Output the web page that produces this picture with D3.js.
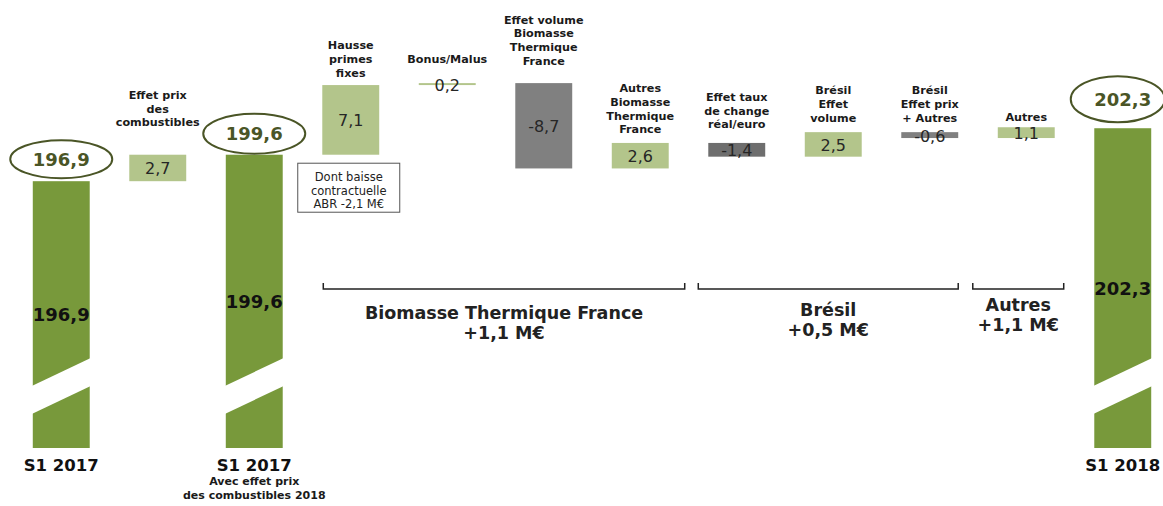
<!DOCTYPE html>
<html>
<head>
<meta charset="utf-8">
<script src="https://cdn.jsdelivr.net/npm/d3@7/dist/d3.min.js"></script>
<style>
  html, body { margin: 0; padding: 0; background: #fff; }
  svg { display: block; font-family: "DejaVu Sans", Verdana, sans-serif; }
</style>
</head>
<body>
<svg id="chart" width="1163" height="506"></svg>
<script>
// Waterfall: S1 2017 -> S1 2018 (M€)
const categories = [
  ["S1 2017"],
  ["Effet prix", "des", "combustibles"],
  ["S1 2017"],
  ["Hausse", "primes", "fixes"],
  ["Bonus/Malus"],
  ["Effet volume", "Biomasse", "Thermique", "France"],
  ["Autres", "Biomasse", "Thermique", "France"],
  ["Effet taux", "de change", "réal/euro"],
  ["Brésil", "Effet", "volume"],
  ["Brésil", "Effet prix", "+ Autres"],
  ["Autres"],
  ["S1 2018"]
];
const values = [196.9, 2.7, 199.6, 7.1, 0.2, -8.7, 2.6, -1.4, 2.5, -0.6, 1.1, 202.3];
const kinds = ["total", "delta", "total", "delta", "delta", "delta", "delta", "delta", "delta", "delta", "delta", "total"];
const totalSubLabels = [[], [], ["Avec effet prix", "des combustibles 2018"], [], [], [], [], [], [], [], [], []];
const noteLines = ["Dont baisse", "contractuelle", "ABR -2,1 M€"];
const groupNames = ["Biomasse Thermique France", "Brésil", "Autres"];
const groupTotals = ["+1,1 M€", "+0,5 M€", "+1,1 M€"];
const groupSpans = [[3, 6], [7, 9], [10, 10]];

// ---- rendering ----
const svg = d3.select("#chart");
const fmt = v => v.toFixed(1).replace(".", ",");

const x = d3.scaleBand()
  .domain(d3.range(values.length))
  .range([13, 1171])
  .paddingInner(0.41)
  .paddingOuter(0.205);

const y = d3.scaleLinear().domain([169.7, 210]).range([448, 52.7]);
const base = y.domain()[0];

// running totals for the floating bars
let running = 0;
const bars = values.map((v, i) => {
  let y0, y1;
  if (kinds[i] === "total") { y0 = base; y1 = v; running = v; }
  else { y0 = running; y1 = running + v; running = y1; }
  return { i, v, kind: kinds[i], lo: Math.min(y0, y1), hi: Math.max(y0, y1) };
});

const colTotal = "#78993b";
const colUp = "#b3c58b";
const colDown = "#808080";
const colDownDark = "#6e6e6e";

const bw = x.bandwidth();

svg.append("g").selectAll("rect")
  .data(bars)
  .join("rect")
  .attr("x", d => x(d.i))
  .attr("width", bw)
  .attr("y", d => y(d.hi))
  .attr("height", d => Math.max(1, y(d.lo) - y(d.hi)))
  .attr("fill", d => d.kind === "total" ? colTotal : (d.v >= 0 ? colUp : (d.i === 7 ? colDownDark : colDown)));

// axis break on the total bars
const totals = bars.filter(d => d.kind === "total");
svg.append("g").selectAll("polygon")
  .data(totals)
  .join("polygon")
  .attr("fill", "#fff")
  .attr("points", d => {
    const x0 = x(d.i) - 1, x1 = x(d.i) + bw + 1, b = y(base);
    const yl = b - 48, yr = b - 76, h = 14;
    return [[x0, yl - h], [x1, yr - h], [x1, yr + h], [x0, yl + h]].map(p => p.join(",")).join(" ");
  });

// value inside the total bars
svg.append("g").selectAll("text")
  .data(totals)
  .join("text")
  .attr("x", d => x(d.i) + bw / 2)
  .attr("y", d => (y(d.hi) + y(base)) / 2)
  .attr("text-anchor", "middle")
  .attr("dominant-baseline", "central")
  .attr("font-size", 18)
  .attr("font-weight", "bold")
  .attr("fill", "#111")
  .text(d => fmt(d.v));

// circled totals above the bars
const ellipseStyle = { 0: { rx: 51, ry: 19, lift: 22 }, 2: { rx: 51, ry: 20, lift: 21 }, 11: { rx: 47, ry: 23, lift: 29 } };
const eg = svg.append("g").selectAll("g").data(totals).join("g")
  .attr("transform", d => `translate(${x(d.i) + bw / 2 + (d.i === 11 ? -5 : 0)},${y(d.hi) - ellipseStyle[d.i].lift})`);
eg.append("ellipse")
  .attr("rx", d => ellipseStyle[d.i].rx)
  .attr("ry", d => ellipseStyle[d.i].ry)
  .attr("fill", "none")
  .attr("stroke", "#4a5526")
  .attr("stroke-width", 2);
eg.append("text")
  .attr("x", d => d.i === 11 ? 5 : 0)
  .attr("text-anchor", "middle")
  .attr("dominant-baseline", "central")
  .attr("font-size", 18)
  .attr("font-weight", "bold")
  .attr("fill", "#4a5526")
  .text(d => fmt(d.v));

// values on the floating bars
const deltas = bars.filter(d => d.kind === "delta");
svg.append("g").selectAll("text")
  .data(deltas)
  .join("text")
  .attr("x", d => x(d.i) + bw / 2)
  .attr("y", d => (y(d.hi) + y(d.lo)) / 2 + 1)
  .attr("text-anchor", "middle")
  .attr("dominant-baseline", "central")
  .attr("font-size", 16)
  .attr("fill", "#262626")
  .text(d => fmt(d.v));

// headings above the floating bars
const labelLift = { 1: 32, 3: 12, 4: 24, 5: 22, 6: 13, 7: 18, 8: 14, 9: 14, 10: 10 };
const lineH = 13.7;
const hg = svg.append("g").selectAll("text").data(deltas).join("text")
  .attr("text-anchor", "middle")
  .attr("font-size", 11.2)
  .attr("font-weight", "bold")
  .attr("fill", "#1a1a1a");
hg.each(function (d) {
  const lines = categories[d.i];
  const last = y(d.hi) - labelLift[d.i];
  d3.select(this).selectAll("tspan").data(lines).join("tspan")
    .attr("x", x(d.i) + bw / 2)
    .attr("y", (t, k) => last - (lines.length - 1 - k) * lineH)
    .attr("dominant-baseline", "central")
    .text(t => t);
});

// category names under the total bars
const bg = svg.append("g").selectAll("g").data(totals).join("g");
bg.append("text")
  .attr("x", d => x(d.i) + bw / 2)
  .attr("y", 465)
  .attr("text-anchor", "middle")
  .attr("dominant-baseline", "central")
  .attr("font-size", 16.5)
  .attr("font-weight", "bold")
  .attr("fill", "#111")
  .text(d => categories[d.i][0]);
bg.each(function (d) {
  d3.select(this).selectAll("text.sub").data(totalSubLabels[d.i]).join("text")
    .attr("class", "sub")
    .attr("x", x(d.i) + bw / 2)
    .attr("y", (t, k) => 481 + k * 14)
    .attr("text-anchor", "middle")
    .attr("dominant-baseline", "central")
    .attr("font-size", 11)
    .attr("font-weight", "bold")
    .attr("fill", "#1a1a1a")
    .text(t => t);
});

// note box under "Hausse primes fixes"
const nb = bars[3];
const noteW = 102, noteH = 49;
const ng = svg.append("g")
  .attr("transform", `translate(${x(3) + bw / 2 - 2 - noteW / 2},${y(nb.lo) + 8.5})`);
ng.append("rect")
  .attr("width", noteW).attr("height", noteH)
  .attr("fill", "#fff").attr("stroke", "#555").attr("stroke-width", 1);
ng.selectAll("text").data(noteLines).join("text")
  .attr("x", noteW / 2)
  .attr("y", (t, k) => 14 + k * 13.5)
  .attr("text-anchor", "middle")
  .attr("dominant-baseline", "central")
  .attr("font-size", 11.5)
  .attr("fill", "#222")
  .text(t => t);

// group brackets with subtotal
const bracketPad = [[-1, 16], [10, 0], [25, 9]];
const labelY = [313, 310, 305];
const bracketY = 289;
groupNames.forEach((name, g) => {
  const [a, b] = groupSpans[g];
  const x0 = x(a) - bracketPad[g][0];
  const x1 = x(b) + bw + bracketPad[g][1];
  svg.append("path")
    .attr("d", `M${x0},${bracketY - 6}V${bracketY}H${x1}V${bracketY - 6}`)
    .attr("fill", "none")
    .attr("stroke", "#222")
    .attr("stroke-width", 1.5);
  const cx = (x0 + x1) / 2;
  const t = svg.append("text")
    .attr("text-anchor", "middle")
    .attr("font-size", 17.5)
    .attr("font-weight", "bold")
    .attr("fill", "#222");
  [name, groupTotals[g]].forEach((s, k) => {
    t.append("tspan")
      .attr("x", cx)
      .attr("y", labelY[g] + k * 20)
      .attr("dominant-baseline", "central")
      .text(s);
  });
});
</script>
</body>
</html>
